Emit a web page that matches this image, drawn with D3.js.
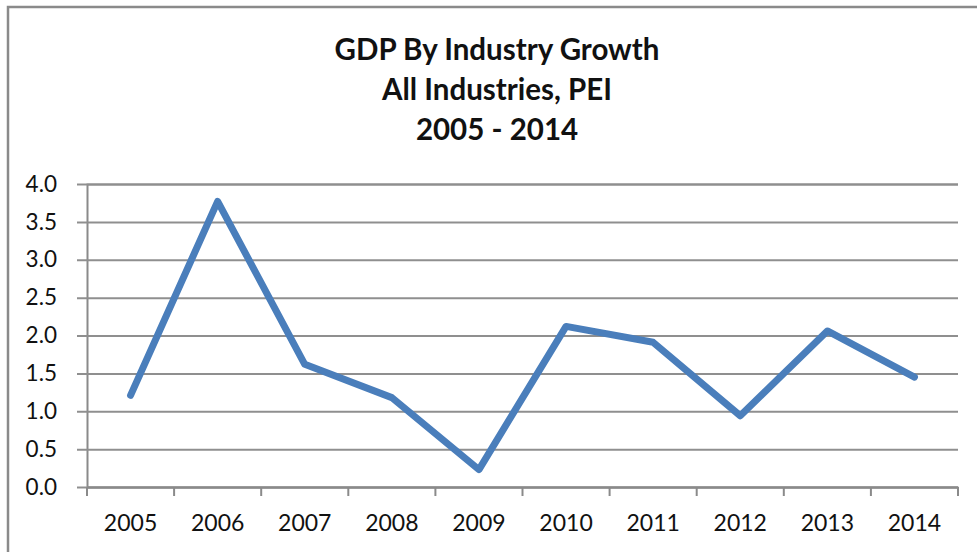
<!DOCTYPE html>
<html>
<head>
<meta charset="utf-8">
<script src="https://cdn.jsdelivr.net/npm/d3@7"></script>
<style>
body { margin: 0; background: #fff; }
svg text { font-family: Lato, "Open Sans", sans-serif; fill: #111; }
</style>
</head>
<body>
<script>
var years = ["2005", "2006", "2007", "2008", "2009", "2010", "2011", "2012", "2013", "2014"];
var growth = [1.21, 3.77, 1.62, 1.18, 0.23, 2.12, 1.91, 0.94, 2.06, 1.45];
var yTicks = [0, 0.5, 1, 1.5, 2, 2.5, 3, 3.5, 4];
var titleLines = ["GDP By Industry Growth", "All Industries, PEI", "2005 - 2014"];

var width = 977, height = 552;
var svg = d3.select("body").append("svg")
  .attr("width", width).attr("height", height);

// outer frame (only top and left edges show)
svg.append("rect")
  .attr("x", 8).attr("y", 7)
  .attr("width", 990).attr("height", 570)
  .attr("fill", "none").attr("stroke", "#8a8a8a").attr("stroke-width", 2.5);

var plotLeft = 87, plotRight = 958, plotTop = 184, plotBottom = 487;

var x = d3.scaleBand().domain(years).range([plotLeft, plotRight]);
var y = d3.scaleLinear().domain([0, 4]).range([plotBottom, plotTop]);

// title
svg.append("g").selectAll("text")
  .data(titleLines)
  .enter().append("text")
  .attr("x", 497)
  .attr("y", function(d, i) { return 60 + i * 40; })
  .attr("text-anchor", "middle")
  .style("font-size", "29.5px")
  .style("font-weight", "bold")
  .text(function(d) { return d; });

// y axis + grid
var yAxis = svg.append("g")
  .attr("transform", "translate(" + plotLeft + ",0)")
  .call(d3.axisLeft(y).tickValues(yTicks).tickFormat(d3.format(".1f"))
    .tickSize(-(plotRight - plotLeft)).tickPadding(30));
yAxis.select(".domain").attr("stroke", "#8a8a8a").attr("stroke-width", 2);
yAxis.selectAll(".tick line")
  .attr("x1", -10)
  .attr("stroke", "#8f8f8f").attr("stroke-width", 2);
yAxis.selectAll(".tick text")
  .style("font-size", "22.5px").style("fill", "#111");

// x axis
var xAxis = svg.append("g")
  .attr("transform", "translate(0," + plotBottom + ")")
  .call(d3.axisBottom(x).tickSize(0).tickPadding(28));
xAxis.select(".domain").attr("stroke", "#8a8a8a").attr("stroke-width", 2);
xAxis.selectAll(".tick text")
  .style("font-size", "23px").style("fill", "#111");

// tick marks between categories
var bounds = years.map(function(d) { return x(d); }).concat([plotRight]);
svg.append("g").selectAll("line")
  .data(bounds)
  .enter().append("line")
  .attr("x1", function(d) { return d; })
  .attr("x2", function(d) { return d; })
  .attr("y1", plotBottom).attr("y2", plotBottom + 9)
  .attr("stroke", "#8a8a8a").attr("stroke-width", 2);

// series line
var line = d3.line()
  .x(function(d, i) { return x(years[i]) + x.bandwidth() / 2; })
  .y(function(d) { return y(d); });

svg.append("path")
  .datum(growth)
  .attr("d", line)
  .attr("fill", "none")
  .attr("stroke", "#4a7ebb")
  .attr("stroke-width", 7)
  .attr("stroke-linejoin", "round")
  .attr("stroke-linecap", "round");
</script>
</body>
</html>
